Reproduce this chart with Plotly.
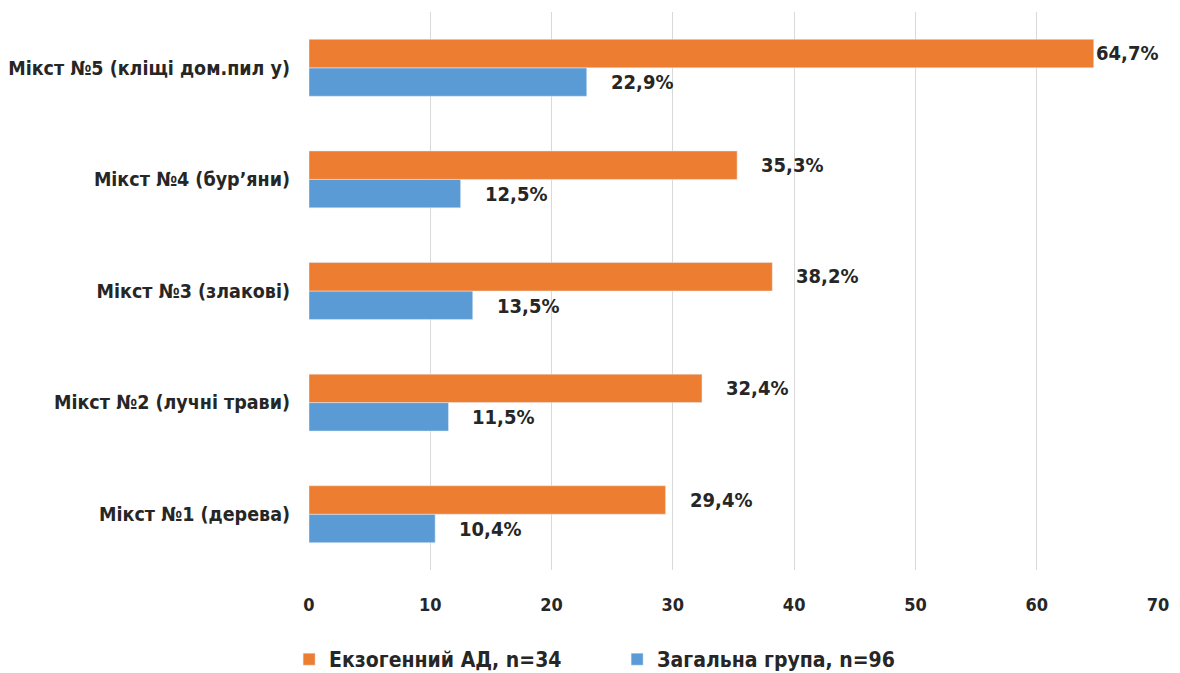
import plotly.graph_objects as go

categories = [
    "Мікст №1 (дерева)",
    "Мікст №2 (лучні трави)",
    "Мікст №3 (злакові)",
    "Мікст №4 (бур’яни)",
    "Мікст №5 (кліщі дом.пил у)",
]
exogenous = [29.4, 32.4, 38.2, 35.3, 64.7]
general = [10.4, 11.5, 13.5, 12.5, 22.9]
x_ticks = [0, 10, 20, 30, 40, 50, 60, 70]

name_exo = "Екзогенний АД, n=34"
name_gen = "Загальна група, n=96"

ORANGE = "#ED7D31"
BLUE = "#5B9BD5"
TEXT = "#262626"
FONT = "DejaVu Sans Condensed"


def fmt(v):
    return f"{v:.1f}%".replace(".", ",")


fig = go.Figure()
fig.add_trace(go.Bar(
    y=categories, x=general, orientation="h", name=name_gen,
    marker_color=BLUE, legendrank=2,
))
fig.add_trace(go.Bar(
    y=categories, x=exogenous, orientation="h", name=name_exo,
    marker_color=ORANGE, legendrank=1,
))

# value labels to the right of each bar
annotations = []
for i, cat in enumerate(categories):
    for vals, off in ((general, -0.13), (exogenous, 0.13)):
        v = vals[i]
        shift = 0 if v > 60 else 22
        annotations.append(dict(
            x=v, y=i + off, xref="x", yref="y", text=fmt(v),
            showarrow=False, xanchor="left", xshift=shift,
            font=dict(family=FONT, size=20, color=TEXT, weight="bold"),
        ))

fig.update_layout(
    width=1180, height=673,
    margin=dict(l=309, r=22, t=12, b=103, autoexpand=False),
    paper_bgcolor="white", plot_bgcolor="white",
    barmode="group", bargap=0.49, bargroupgap=0,
    font=dict(family=FONT, size=19, color=TEXT),
    annotations=annotations,
    xaxis=dict(
        range=[0, 70], tickvals=x_ticks, showgrid=True,
        gridcolor="#D9D9D9", gridwidth=1, zeroline=False,
        showline=False, ticklabelstandoff=22,
        tickfont=dict(family=FONT, size=18, color=TEXT, weight="bold"),
    ),
    yaxis=dict(
        type="category", showgrid=False, zeroline=False, showline=False,
        ticklabelstandoff=18,
        tickfont=dict(family=FONT, size=19.5, color=TEXT, weight="bold"),
    ),
    legend=dict(
        orientation="h", xref="container", x=0.245, xanchor="left",
        yref="container", y=0.02, yanchor="middle",
        font=dict(family=FONT, size=21, color=TEXT, weight="bold"),
        itemwidth=30, traceorder="normal",
        entrywidth=283, entrywidthmode="pixels",
    ),
)

fig.write_html("out.html")
